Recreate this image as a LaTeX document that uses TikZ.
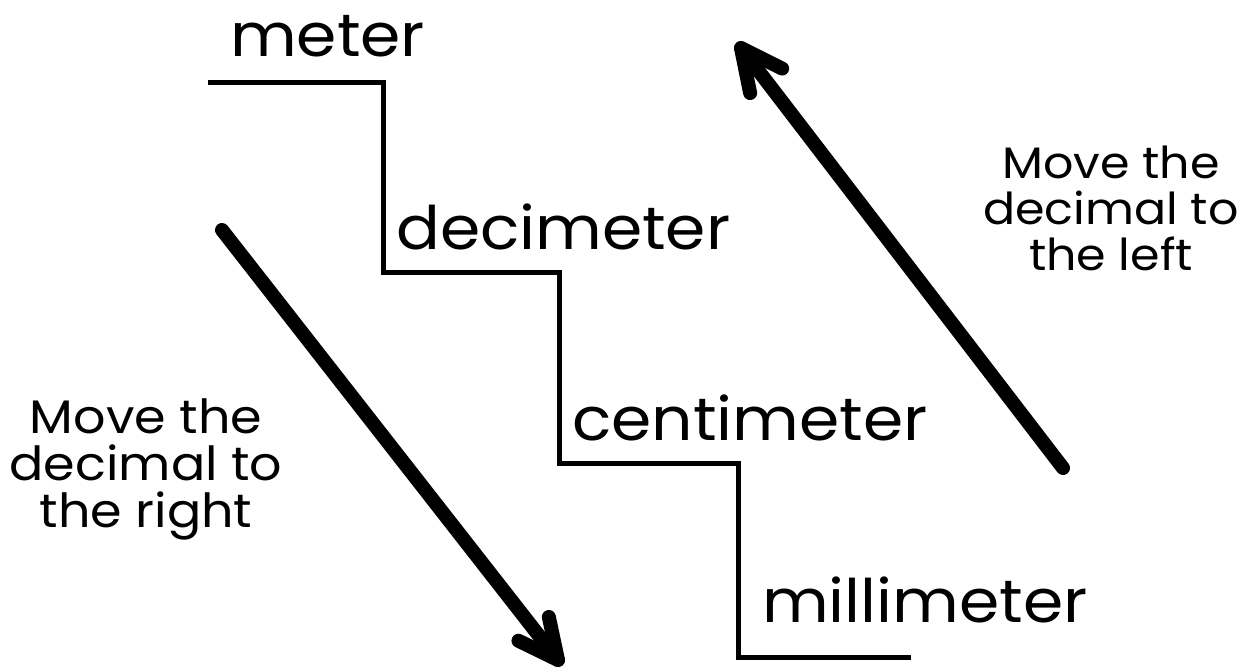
\documentclass[tikz,border=0pt]{standalone}
\usepackage{fontspec}
\setmainfont{Poppins}[FakeStretch=1.08]
\usetikzlibrary{calc}
\begin{document}
\begin{tikzpicture}[x=1pt,y=-1pt,
  stair/.style={line width=5pt,line cap=butt,line join=miter},
  bigarrow/.style={line width=14pt,line cap=round,line join=round},
  unit/.style={anchor=base west,inner sep=0pt,font=\fontsize{60}{60}\selectfont},
  note/.style={align=center,inner sep=0pt,font=\fontsize{47}{47}\selectfont}]
\useasboundingbox[fill=white] (0,0) rectangle (1256,668);
% staircase
\coordinate (s0) at (208,83);
\coordinate (s1) at (383,83);
\coordinate (s2) at (383,273);
\coordinate (s3) at (559,273);
\coordinate (s4) at (559,463);
\coordinate (s5) at (738,463);
\coordinate (s6) at (738,657);
\coordinate (s7) at (911,657);
\draw[stair] (s0) -- (s1) -- (s2) -- (s3) -- (s4) -- (s5) -- (s6) -- (s7);
% unit labels
\node[unit] (m)  at (230,57)  {meter};
\node[unit] (dm) at (396,250) {decimeter};
\node[unit] (cm) at (572,440) {centimeter};
\node[unit] (mm) at (762,622) {millimeter};
% arrows
\coordinate (la) at (222,230);
\coordinate (lb) at (558,660);
\coordinate (ra) at (1063,468);
\coordinate (rb) at (741,48);
\draw[bigarrow] (la) -- (lb);
\draw[bigarrow] ($(lb)!44pt!26:(la)$) -- (lb) -- ($(lb)!44pt!-26:(la)$);
\draw[bigarrow] (ra) -- (rb);
\draw[bigarrow] ($(rb)!46pt!26:(ra)$) -- (rb) -- ($(rb)!46pt!-26:(ra)$);
% notes
\node[note] (ln) at (146,469) {Move the\\decimal to\\the right};
\node[note,font=\fontsize{44}{46}\selectfont] (rn) at (1111,208) {Move the\\decimal to\\the left};
\end{tikzpicture}
\end{document}
